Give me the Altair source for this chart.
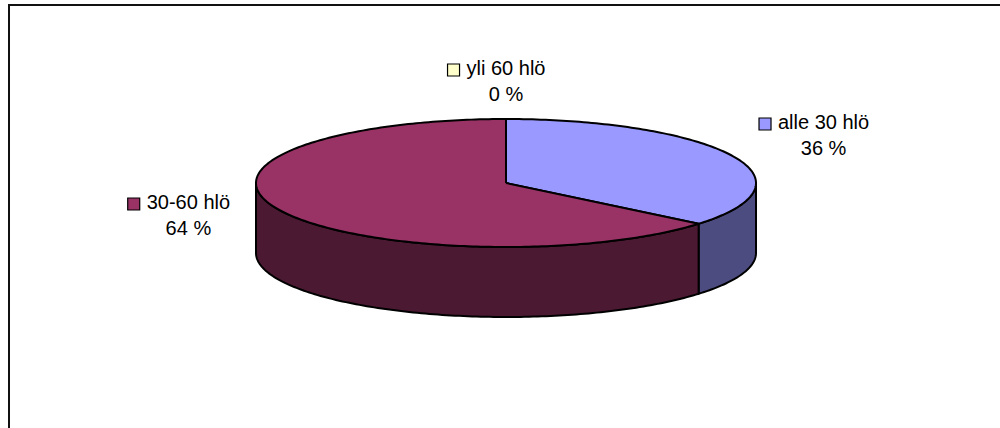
import math

import altair as alt
import pandas as pd

# Answers by group size (share of responses, %)
categories = ["alle 30 hlö", "30-60 hlö", "yli 60 hlö"]
shares = [36, 64, 0]
value_labels = ["36 %", "64 %", "0 %"]
top_colors = ["#9999FF", "#993366", "#FFFFCC"]
side_colors = ["#4C4C80", "#4C1933", "#808066"]

# Canvas and pie geometry (pixel units of the drawing)
W, H = 1000, 428
CX, CY = 506, 183          # centre of the top face
RX, RY = 250, 64           # half axes of the top ellipse
DEPTH = 70                 # thickness of the disc
LRX, LRY = 351, 94         # half axes of the ellipse the labels sit on
FONT = 20
FONT_FAMILY = "Liberation Sans, Arial, sans-serif"

# Arial advance widths (1/1000 em) for the characters used in the labels
ARIAL_W = {" ": 278, "%": 889, "-": 333, "a": 556, "e": 556, "h": 556,
           "i": 222, "l": 222, "y": 500, "ö": 556}


def text_width(s):
    return sum(ARIAL_W.get(ch, 556) for ch in s) * FONT / 1000.0


def ellipse_point(angle, drop=0.0, rx=RX, ry=RY):
    """Point at `angle` degrees, clockwise from 12 o'clock."""
    t = math.radians(angle)
    return CX + rx * math.sin(t), CY - ry * math.cos(t) + drop


def arc(a0, a1, drop=0.0):
    n = max(2, int(abs(a1 - a0)) + 1)
    return [ellipse_point(a0 + (a1 - a0) * k / (n - 1), drop) for k in range(n)]


# Slice angles from the shares
starts, ends = [], []
acc = 0.0
for s in shares:
    starts.append(acc * 3.6)
    acc += s
    ends.append(acc * 3.6)

top_rows, side_rows = [], []
for idx, (cat, a0, a1) in enumerate(zip(categories, starts, ends)):
    if a1 - a0 <= 0:
        continue
    # top face: centre -> rim -> centre
    pts = [(CX, CY)] + arc(a0, a1) + [(CX, CY)]
    for i, (x, y) in enumerate(pts):
        top_rows.append({"poly": f"top{idx}", "i": i, "x": x, "y": y,
                         "fill": top_colors[idx]})
    # visible front wall: the part of the rim between 90 and 270 degrees
    s0, s1 = max(a0, 90.0), min(a1, 270.0)
    if s1 > s0:
        pts = arc(s0, s1) + arc(s1, s0, DEPTH)
        pts.append(pts[0])
        for i, (x, y) in enumerate(pts):
            side_rows.append({"poly": f"side{idx}", "i": i, "x": x, "y": y,
                              "fill": side_colors[idx]})

# Data labels: name with a colour key on the first line, percentage below
label_rows, key_rows = [], []
for idx, (cat, a0, a1) in enumerate(zip(categories, starts, ends)):
    mid = (a0 + a1) / 2.0
    ax, ay = ellipse_point(mid, rx=LRX, ry=LRY)
    b1, b2 = ay - 14, ay + 12
    label_rows.append({"x": ax, "y": b1, "text": cat})
    label_rows.append({"x": ax, "y": b2, "text": value_labels[idx]})
    left = ax - text_width(cat) / 2.0
    key_rows.append({"x": left - 19, "x2": left - 7, "y": b1 - 11, "y2": b1 + 1,
                     "fill": top_colors[idx]})

x_scale = alt.Scale(domain=[0, W], nice=False, zero=False)
y_scale = alt.Scale(domain=[0, H], nice=False, zero=False, reverse=True)


def xy(field_x="x", field_y="y"):
    return dict(x=alt.X(f"{field_x}:Q", scale=x_scale, axis=None),
                y=alt.Y(f"{field_y}:Q", scale=y_scale, axis=None))


frame = alt.Chart(pd.DataFrame({"k": [0]})).mark_rect(
    fill="white", stroke="#111111", strokeWidth=2
).encode(x=alt.value(9), x2=alt.value(W + 20), y=alt.value(5), y2=alt.value(H + 20))

sides = alt.Chart(pd.DataFrame(side_rows)).mark_line(
    stroke="black", strokeWidth=2, strokeJoin="round"
).encode(**xy(), detail="poly:N", order="i:Q",
         fill=alt.Fill("fill:N", scale=None))

tops = alt.Chart(pd.DataFrame(top_rows)).mark_line(
    stroke="black", strokeWidth=2, strokeJoin="round"
).encode(**xy(), detail="poly:N", order="i:Q",
         fill=alt.Fill("fill:N", scale=None))

keys = alt.Chart(pd.DataFrame(key_rows)).mark_rect(
    stroke="black", strokeWidth=1.2
).encode(**xy(), x2="x2:Q", y2="y2:Q", fill=alt.Fill("fill:N", scale=None))

labels = alt.Chart(pd.DataFrame(label_rows)).mark_text(
    font=FONT_FAMILY, fontSize=FONT, color="black", align="center",
    baseline="alphabetic"
).encode(**xy(), text="text:N")

chart = alt.layer(frame, sides, tops, keys, labels).properties(
    width=W, height=H, padding=0,
    autosize=alt.AutoSizeParams(type="none"),
).configure_view(stroke=None)

chart.save("out.html", embed_options={"renderer": "svg", "actions": False})
